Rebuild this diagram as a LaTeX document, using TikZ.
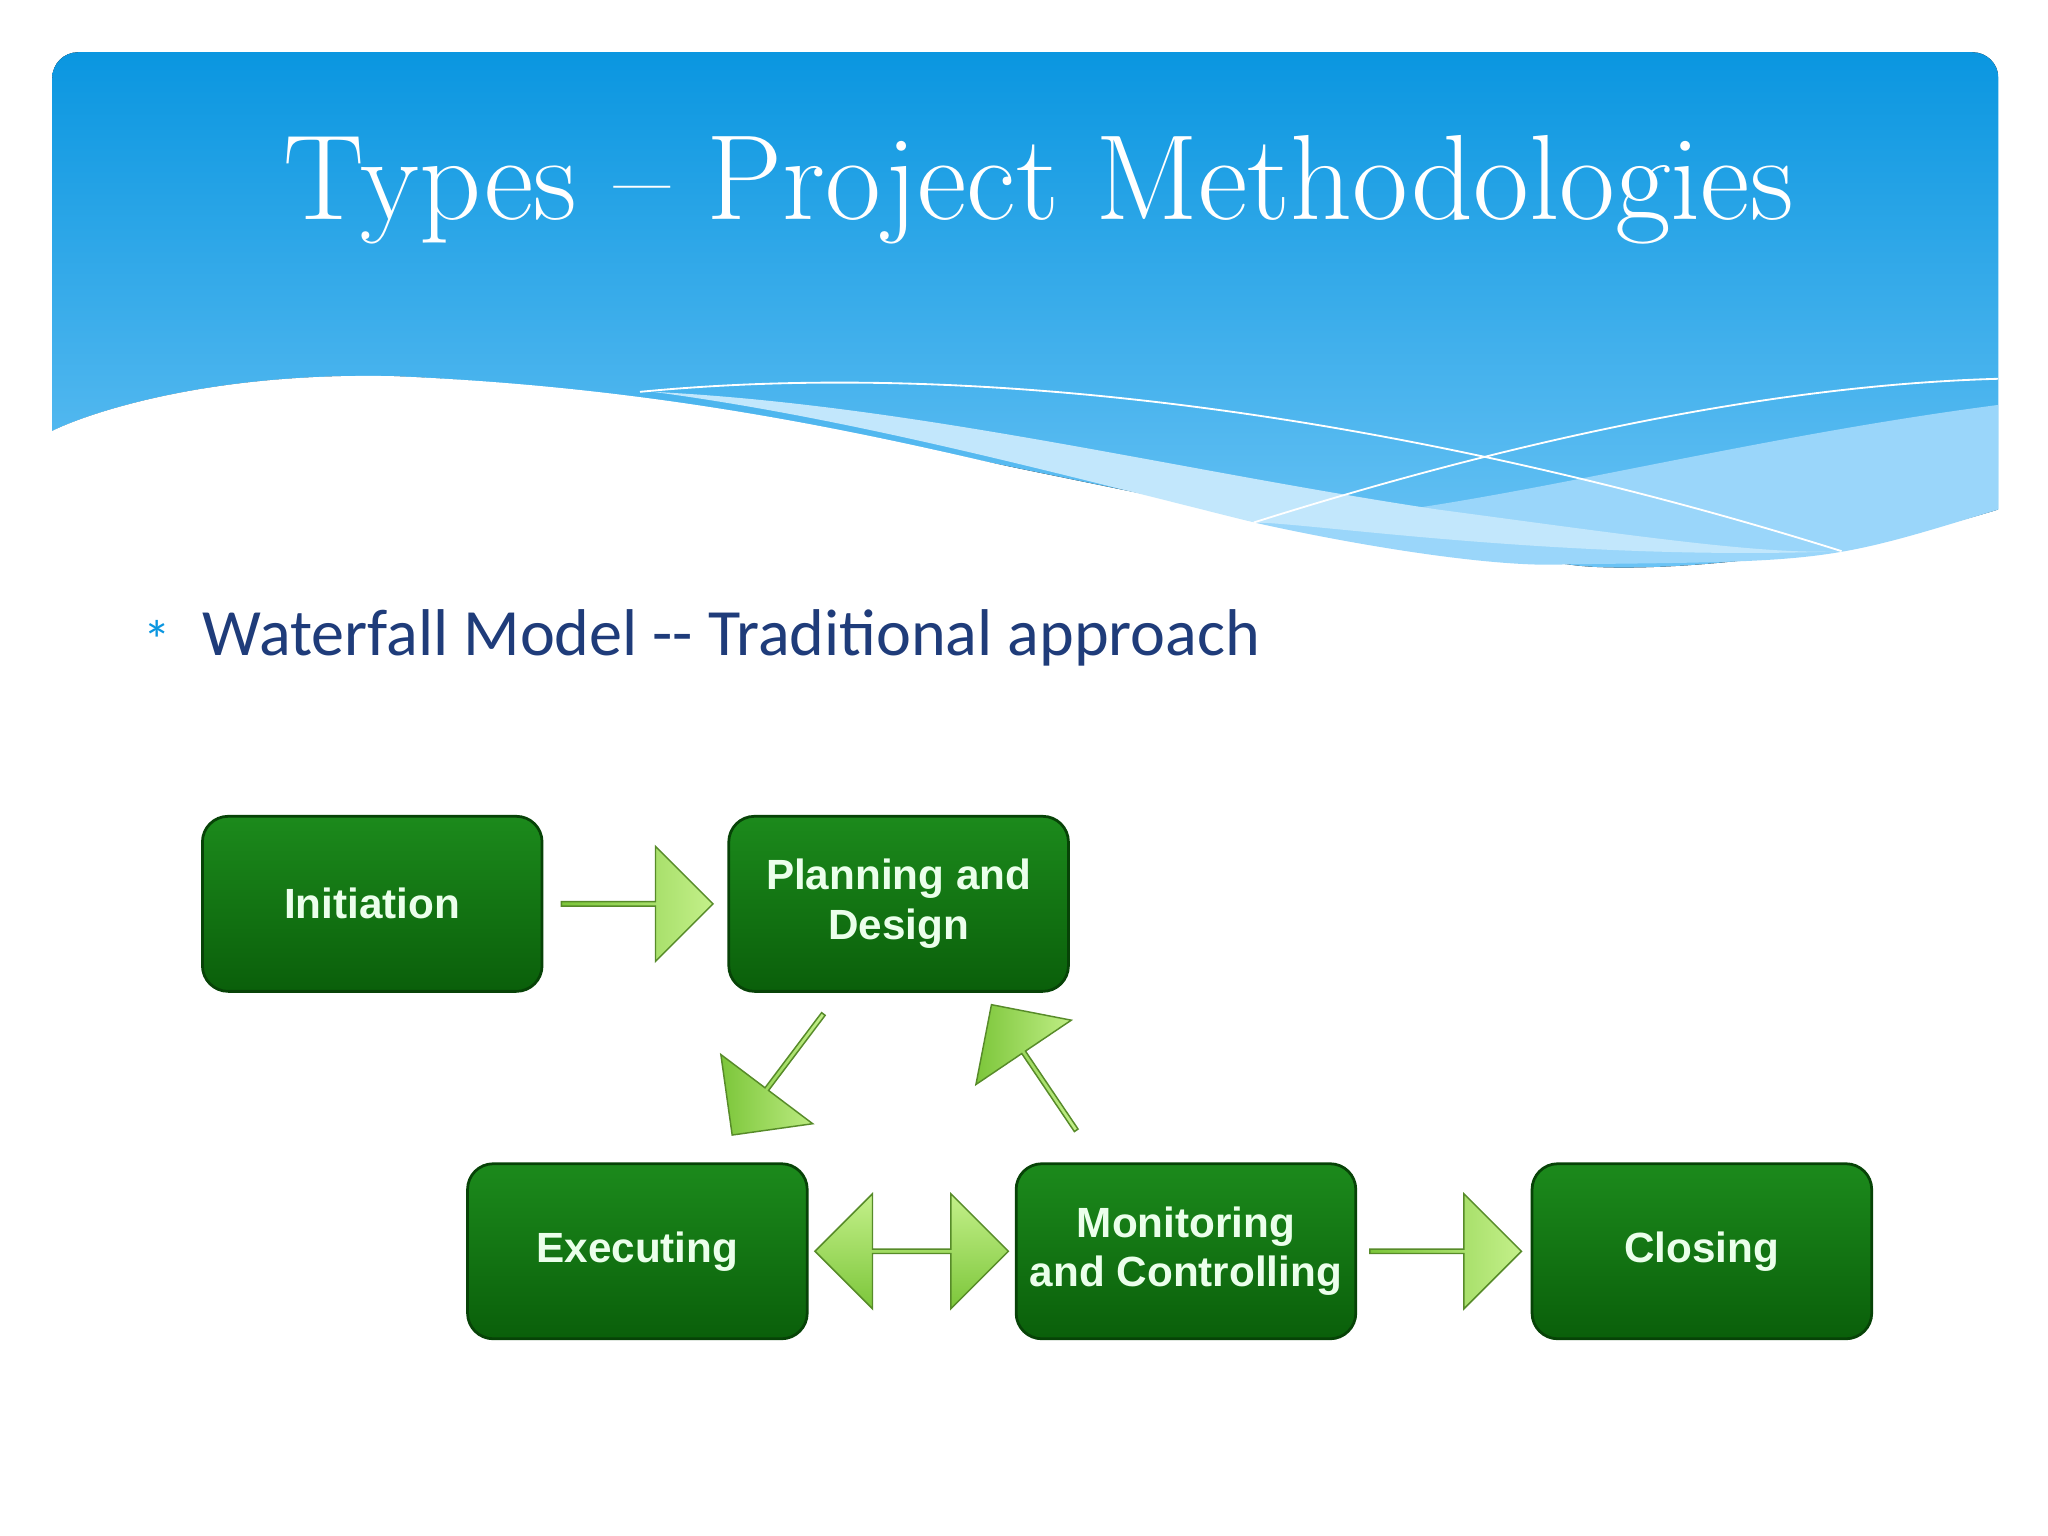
\documentclass[tikz,border=0pt]{standalone}
\usepackage{fontspec}
\setsansfont{Liberation Sans}
\newfontfamily\carl{Carlito}
\usetikzlibrary{shapes.arrows}
\definecolor{hdrtop}{HTML}{0A96E0}
\definecolor{hdrbot}{HTML}{6CC4F5}
\definecolor{band}{HTML}{9AD6FA}
\definecolor{gdark}{HTML}{0A5F0A}
\definecolor{glight}{HTML}{1C8A1C}
\definecolor{adark}{HTML}{7CC63A}
\definecolor{alight}{HTML}{C4F08A}
\definecolor{subblue}{HTML}{1F3C7A}
\tikzset{
 stepbox/.style={draw=gdark!70!black, line width=1.5pt, rounded corners=14, top color=glight, bottom color=gdark,
   minimum width=6.5cm, minimum height=3.35cm, text=white!92!green, align=center,
   font=\sffamily\bfseries\fontsize{23}{27}\selectfont},
 garrow/.style={single arrow, draw=adark!70!black, line width=0.8pt, left color=adark, right color=alight,
   single arrow head extend=0.35cm, minimum width=2.2cm, inner sep=0pt},
 gdarrow/.style={double arrow, draw=adark!70!black, line width=0.8pt, top color=alight, bottom color=adark,
   double arrow head extend=0.35cm, minimum width=2.2cm, inner sep=0pt}
}
\begin{document}
\begin{tikzpicture}[x=0.025cm,y=-0.025cm]
\useasboundingbox (0,0) rectangle (1568,1176);
\fill[white] (0,0) rectangle (1568,1176);
% header
\begin{scope}
\clip[rounded corners=14] (40,40) rectangle (1530,460);
\fill[top color=hdrtop, bottom color=hdrbot] (40,40) -- (1530,40) -- (1530,390)
  .. controls (1400,430) and (1250,440) .. (1200,432)
  .. controls (900,400) and (600,300) .. (300,288)
  .. controls (150,285) and (60,320) .. (40,330) -- cycle;
\fill[band] (1530,310) .. controls (1300,340) and (1100,400) .. (960,400)
  .. controls (1050,420) and (1150,435) .. (1200,432) .. controls (1400,430) .. (1530,390) -- cycle;
\fill[band!60!white] (500,300) .. controls (700,310) and (900,360) .. (1100,390) .. controls (1250,410) and (1350,425) .. (1410,422)
  .. controls (1200,430) and (1000,400) .. (960,400) .. controls (800,360) and (650,320) .. (500,300) -- cycle;
\fill[white] (40,330) .. controls (60,320) and (150,285) .. (300,288)
  .. controls (600,300) and (800,370) .. (960,400) -- (960,470) -- (40,470) -- cycle;
\draw[white, line width=1pt] (490,300) .. controls (800,270) and (1150,340) .. (1410,422);
\draw[white, line width=1pt] (960,400) .. controls (1150,340) and (1350,295) .. (1530,290);
\end{scope}
\node[text=white, font=\fontsize{66}{70}\selectfont] (title) at (795,145) {Types -- Project Methodologies};
\node[text=hdrtop, font=\fontsize{30}{30}\selectfont\carl] (bul) at (120,490) {*};
\node[anchor=west, text=subblue, font=\carl\fontsize{36}{40}\selectfont, inner sep=0pt] (sub) at (155,488) {Waterfall Model -- Traditional approach};
% boxes
\node[stepbox] (ini) at (285,692) {Initiation};
\node[stepbox] (pla) at (688,692) {Planning and\\Design};
\node[stepbox] (exe) at (488,958) {Executing};
\node[stepbox] (mon) at (908,958) {Monitoring\\and Controlling};
\node[stepbox] (clo) at (1303,958) {Closing};
% arrows
\node[garrow, minimum height=2.9cm] (a1) at (487,692) {};
\node[garrow, minimum height=2.9cm, rotate=-127, shape border rotate=0] (a2) at (596,822) {};
\node[garrow, minimum height=2.9cm, rotate=124] (a3) at (792,818) {};
\node[gdarrow, minimum height=3.7cm] (a4) at (698,958) {};
\node[garrow, minimum height=2.9cm] (a5) at (1106,958) {};
\end{tikzpicture}
\end{document}
